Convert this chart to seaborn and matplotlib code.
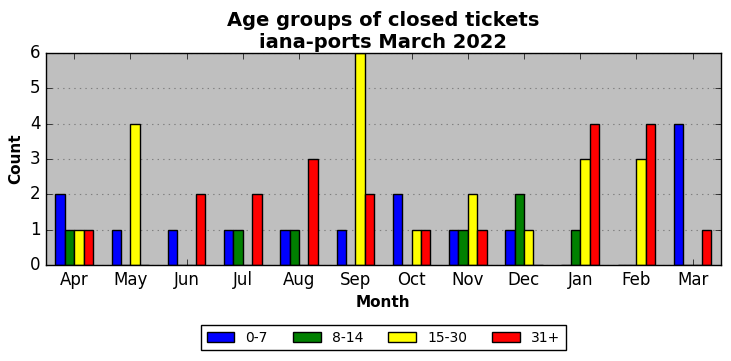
import pandas as pd
import numpy as np
import matplotlib.pyplot as plt
import seaborn as sns

months = ["Apr", "May", "Jun", "Jul", "Aug", "Sep", "Oct", "Nov", "Dec", "Jan", "Feb", "Mar"]
age_groups = ["0-7", "8-14", "15-30", "31+"]
counts_0_7 = [2, 1, 1, 1, 1, 1, 2, 1, 1, 0, 0, 4]
counts_8_14 = [1, 0, 0, 1, 1, 0, 0, 1, 2, 1, 0, 0]
counts_15_30 = [1, 4, 0, 0, 0, 6, 1, 2, 1, 3, 3, 0]
counts_31_plus = [1, 0, 2, 2, 3, 2, 1, 1, 0, 4, 4, 1]
colors = ["blue", "green", "yellow", "red"]

rows = []
for grp, vals in zip(age_groups, [counts_0_7, counts_8_14, counts_15_30, counts_31_plus]):
    for m, v in zip(months, vals):
        rows.append({"Month": m, "Count": v, "Age": grp})
df = pd.DataFrame(rows)

plt.style.use("classic")
plt.rcParams["figure.facecolor"] = "white"
plt.rcParams["savefig.facecolor"] = "white"

fig, ax = plt.subplots(figsize=(7.31, 3.61), dpi=100)
fig.subplots_adjust(left=0.063, right=0.986, top=0.853, bottom=0.266)

sns.barplot(data=df, x="Month", y="Count", hue="Age", order=months,
            hue_order=age_groups, palette=colors, edgecolor="black",
            linewidth=1, width=0.667, gap=0, errorbar=None, saturation=1, ax=ax)

ax.set_facecolor("#bfbfbf")
ax.set_xlim(-0.5, 11.5)
ax.set_ylim(0, 6)
ax.set_yticks(range(0, 7))
ax.yaxis.grid(True, linestyle=":", color="#7f7f7f", linewidth=0.8)
ax.xaxis.grid(False)
ax.set_axisbelow(True)
ax.tick_params(labelsize=12)
ax.set_xlabel("Month", fontsize=11, fontweight="bold")
ax.set_ylabel("Count", fontsize=11, fontweight="bold")
ax.set_title("Age groups of closed tickets\niana-ports March 2022",
             fontsize=14, fontweight="bold", pad=4)

handles, labels = ax.get_legend_handles_labels()
ax.get_legend().remove()
ax.legend(handles, labels, loc="upper center", bbox_to_anchor=(0.5, -0.285),
          ncol=4, fontsize=10, frameon=True, fancybox=False, shadow=False,
          handlelength=2, columnspacing=1.8, borderaxespad=0)

plt.savefig("out.png", dpi=100)
